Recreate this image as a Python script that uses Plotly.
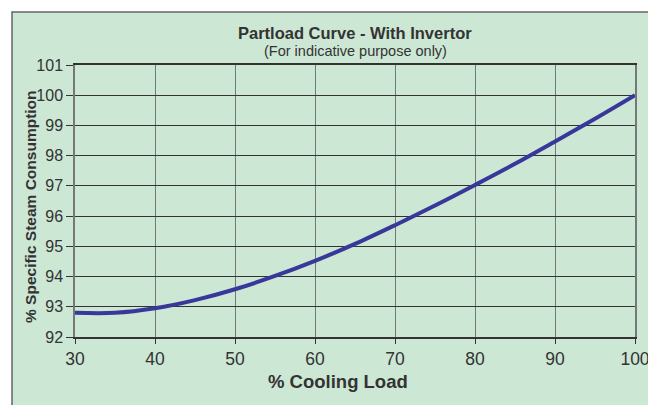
import plotly.graph_objects as go

cooling_load = [30, 35, 40, 45, 50, 55, 60, 65, 70, 75, 80, 85, 90, 95, 100]
steam_consumption = [92.8, 92.8, 92.95, 93.22, 93.58, 94.02, 94.52, 95.08, 95.7, 96.35, 97.03, 97.73, 98.47, 99.22, 100.0]
x_ticks = [30, 40, 50, 60, 70, 80, 90, 100]
y_ticks = [92, 93, 94, 95, 96, 97, 98, 99, 100, 101]

FONT = "Liberation Sans, Arial, sans-serif"
BG = "#cde7d5"
TXT = "#333333"

# plot area: x 75..635 px, y 65..337 px
L, R, T, B = 75, 13, 65, 68
PW, PH = 648 - L - R, 405 - T - B


def px(x):
    return (x - L) / PW


def py(y):
    return (405 - B - y) / PH


fig = go.Figure()
fig.add_trace(go.Scatter(
    x=cooling_load, y=steam_consumption, mode="lines",
    line=dict(color="#38389a", width=4, shape="spline", smoothing=1.0),
    hoverinfo="x+y", showlegend=False,
))

fig.update_layout(
    width=648, height=405,
    margin=dict(l=L, r=R, t=T, b=B),
    paper_bgcolor="white",
    plot_bgcolor=BG,
    font=dict(family=FONT, color=TXT),
    shapes=[dict(type="rect", xref="paper", yref="paper",
                 x0=px(12), x1=px(700), y0=py(460), y1=py(12),
                 fillcolor=BG, line=dict(color="#666666", width=1.5), layer="below")],
    annotations=[
        dict(text="<b>Partload Curve - With Invertor</b>", xref="paper", yref="paper",
             x=0.5, y=py(32.5), xanchor="center", yanchor="middle", showarrow=False,
             font=dict(size=16.5, color=TXT, family=FONT)),
        dict(text="(For indicative purpose only)", xref="paper", yref="paper",
             x=0.5, y=py(51), xanchor="center", yanchor="middle", showarrow=False,
             font=dict(size=14.5, color=TXT, family=FONT)),
        dict(text="<b>% Cooling Load</b>", xref="paper", yref="paper",
             x=px(338), y=py(381), xanchor="center", yanchor="middle", showarrow=False,
             font=dict(size=18.5, color=TXT, family=FONT)),
        dict(text="<b>% Specific Steam Consumption</b>", xref="paper", yref="paper",
             x=px(31), y=py(207), xanchor="center", yanchor="middle", showarrow=False,
             textangle=-90, font=dict(size=15.5, color=TXT, family=FONT)),
    ],
    xaxis=dict(
        range=[30, 100], tickvals=x_ticks, ticktext=[str(v) for v in x_ticks],
        showgrid=True, gridcolor="#777777", gridwidth=1.2,
        showline=True, linecolor="#333333", linewidth=1.5, mirror=True,
        ticks="outside", ticklen=5, tickcolor="#333333",
        tickfont=dict(size=17.5, family=FONT, color=TXT),
        ticklabeloverflow="allow", automargin=False,
        zeroline=False, fixedrange=True,
    ),
    yaxis=dict(
        range=[92, 101], tickvals=y_ticks, ticktext=[str(v) for v in y_ticks],
        showgrid=True, gridcolor="#333333", gridwidth=1.2,
        showline=True, linecolor="#777777", linewidth=1.5, mirror=True,
        ticks="outside", ticklen=7, tickcolor="#333333",
        tickfont=dict(size=16, family=FONT, color=TXT),
        ticklabeloverflow="allow", automargin=False,
        zeroline=False, fixedrange=True,
    ),
)

fig.write_html("out.html", config={"displayModeBar": False},
               post_script="document.body.style.margin='0';document.body.style.overflow='hidden';")
